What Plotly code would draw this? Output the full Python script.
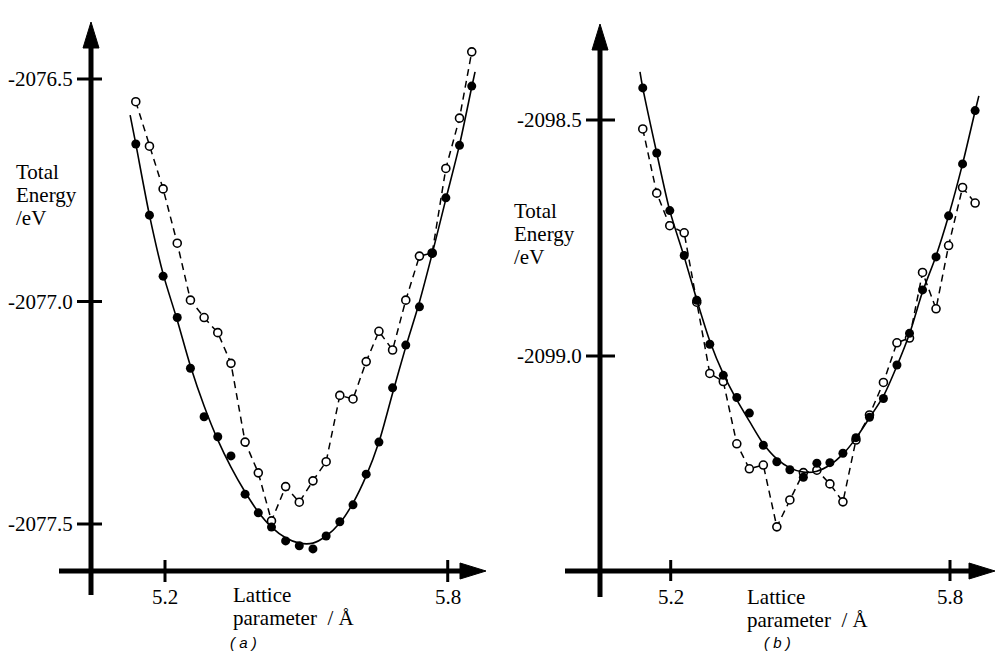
import plotly.graph_objects as go

# ---------------- data ----------------
# panel (a)
x_a = [5.138, 5.167, 5.196, 5.226, 5.254, 5.283, 5.312, 5.340, 5.370, 5.398, 5.426, 5.456, 5.485,
       5.514, 5.542, 5.571, 5.599, 5.627, 5.654, 5.683, 5.711, 5.740, 5.767, 5.796, 5.825, 5.851]
filled_a = [-2076.646, -2076.806, -2076.943, -2077.036, -2077.150, -2077.259, -2077.304, -2077.347,
            -2077.433, -2077.475, -2077.507, -2077.538, -2077.549, -2077.556, -2077.527, -2077.495,
            -2077.457, -2077.388, -2077.316, -2077.194, -2077.098, -2077.012, -2076.892, -2076.767,
            -2076.649, -2076.516]
open_a = [-2076.551, -2076.651, -2076.747, -2076.869, -2076.997, -2077.036, -2077.070, -2077.139,
          -2077.316, -2077.385, -2077.493, -2077.416, -2077.451, -2077.403, -2077.360, -2077.211,
          -2077.219, -2077.135, -2077.067, -2077.109, -2076.997, -2076.898, -2076.891, -2076.701,
          -2076.588, -2076.439]
fit_a_x = [5.126, 5.138, 5.167, 5.196, 5.226, 5.254, 5.283, 5.312, 5.340, 5.370, 5.398, 5.426, 5.456,
           5.485, 5.514, 5.542, 5.571, 5.599, 5.627, 5.654, 5.683, 5.711, 5.740, 5.767, 5.796, 5.825,
           5.851, 5.858]
fit_a_y = [-2076.581, -2076.646, -2076.806, -2076.938, -2077.042, -2077.145, -2077.235, -2077.311,
           -2077.372, -2077.428, -2077.473, -2077.507, -2077.531, -2077.543, -2077.543, -2077.527,
           -2077.498, -2077.453, -2077.392, -2077.316, -2077.206, -2077.102, -2077.001, -2076.893,
           -2076.770, -2076.648, -2076.518, -2076.484]

# panel (b)
x_b = [5.140, 5.170, 5.198, 5.229, 5.256, 5.284, 5.313, 5.342, 5.369, 5.399, 5.428, 5.456, 5.485,
       5.514, 5.542, 5.570, 5.598, 5.627, 5.657, 5.686, 5.713, 5.741, 5.770, 5.797, 5.827, 5.854]
filled_b = [-2098.432, -2098.570, -2098.692, -2098.787, -2098.882, -2098.975, -2099.041, -2099.088,
            -2099.121, -2099.189, -2099.224, -2099.241, -2099.257, -2099.227, -2099.226, -2099.206,
            -2099.173, -2099.130, -2099.090, -2099.019, -2098.952, -2098.860, -2098.790, -2098.703,
            -2098.593, -2098.480]
open_b = [-2098.519, -2098.655, -2098.724, -2098.739, -2098.886, -2099.037, -2099.054, -2099.186,
          -2099.239, -2099.231, -2099.362, -2099.305, -2099.247, -2099.242, -2099.271, -2099.309,
          -2099.178, -2099.125, -2099.056, -2098.972, -2098.962, -2098.823, -2098.900, -2098.766,
          -2098.643, -2098.676]
fit_b_x = [5.134, 5.140, 5.170, 5.198, 5.229, 5.256, 5.284, 5.313, 5.342, 5.369, 5.399, 5.428, 5.456,
           5.485, 5.514, 5.542, 5.570, 5.598, 5.627, 5.657, 5.686, 5.713, 5.741, 5.770, 5.797, 5.827,
           5.854, 5.862]
fit_b_y = [-2098.398, -2098.432, -2098.570, -2098.692, -2098.790, -2098.881, -2098.968, -2099.038,
           -2099.093, -2099.138, -2099.186, -2099.218, -2099.237, -2099.246, -2099.244, -2099.231,
           -2099.208, -2099.174, -2099.131, -2099.085, -2099.021, -2098.953, -2098.864, -2098.788,
           -2098.703, -2098.593, -2098.481, -2098.449]

x_ticks = [5.2, 5.8]
x_tick_labels = ["5.2", "5.8"]
y_ticks_a = [-2076.5, -2077.0, -2077.5]
y_tick_labels_a = ["-2076.5", "-2077.0", "-2077.5"]
y_ticks_b = [-2098.5, -2099.0]
y_tick_labels_b = ["-2098.5", "-2099.0"]

# ---------------- layout geometry (pixels) ----------------
W, H = 996, 651
SERIF = "Liberation Serif"
FS = 21

panels = {
    "a": dict(xr="x", yr="y", left=0, right=498, xv=5.2, xpx=165.0, kx=471.2,
              yv=-2076.5, ypx=79.0, ky=445.0,
              axx=91, axy=571, vtop=22, vbot=595, hleft=59, hright=486,
              tick_l=14, tick_r=11, xt_up=11, xt_dn=11),
    "b": dict(xr="x2", yr="y2", left=498, right=996, xv=5.2, xpx=670.7, kx=465.5,
              yv=-2098.5, ypx=120.0, ky=472.0,
              axx=600, axy=571, vtop=24, vbot=597, hleft=565, hright=995,
              tick_l=14, tick_r=15, xt_up=11, xt_dn=10),
}


def X(p, px):
    return p["xv"] + (px - p["xpx"]) / p["kx"]


def Y(p, py):
    return p["yv"] - (py - p["ypx"]) / p["ky"]


fig = go.Figure()

series = {
    "a": (x_a, filled_a, open_a, fit_a_x, fit_a_y),
    "b": (x_b, filled_b, open_b, fit_b_x, fit_b_y),
}

shapes = []
annotations = []

for key, p in panels.items():
    xs, fy, oy, fx, fyy = series[key]
    xr, yr = p["xr"], p["yr"]
    # dashed open-circle series
    fig.add_trace(go.Scatter(
        x=xs, y=oy, mode="lines+markers", xaxis=xr, yaxis=yr,
        line=dict(color="black", width=1.5, dash="7px,5px"),
        marker=dict(symbol="circle", size=8, color="white", line=dict(color="black", width=1.6)),
        hoverinfo="skip"))
    # fitted solid curve
    fig.add_trace(go.Scatter(
        x=fx, y=fyy, mode="lines", xaxis=xr, yaxis=yr,
        line=dict(color="black", width=1.6, shape="spline", smoothing=0.8),
        hoverinfo="skip"))
    # filled points
    fig.add_trace(go.Scatter(
        x=xs, y=fy, mode="markers", xaxis=xr, yaxis=yr,
        marker=dict(symbol="circle", size=9, color="black"),
        hoverinfo="skip"))

    # axes (thick lines with arrowheads)
    ax_x = X(p, p["axx"])
    ax_y = Y(p, p["axy"])
    shapes.append(dict(type="line", xref=xr, yref=yr, x0=ax_x, x1=ax_x,
                       y0=Y(p, p["vbot"]), y1=Y(p, p["vtop"] + 20),
                       line=dict(color="black", width=5)))
    shapes.append(dict(type="line", xref=xr, yref=yr, x0=X(p, p["hleft"]), x1=X(p, p["hright"] - 20),
                       y0=ax_y, y1=ax_y, line=dict(color="black", width=5)))
    # vertical arrowhead
    tipx, tipy = p["axx"], p["vtop"]
    path = "M {},{} L {},{} L {},{} Z".format(
        X(p, tipx), Y(p, tipy), X(p, tipx - 8), Y(p, tipy + 26), X(p, tipx + 8), Y(p, tipy + 26))
    shapes.append(dict(type="path", xref=xr, yref=yr, path=path,
                       fillcolor="black", line=dict(color="black", width=1)))
    # horizontal arrowhead
    tipx, tipy = p["hright"], p["axy"]
    path = "M {},{} L {},{} L {},{} Z".format(
        X(p, tipx), Y(p, tipy), X(p, tipx - 26), Y(p, tipy - 8), X(p, tipx - 26), Y(p, tipy + 8))
    shapes.append(dict(type="path", xref=xr, yref=yr, path=path,
                       fillcolor="black", line=dict(color="black", width=1)))

    # x ticks
    for tv, tl in zip(x_ticks, x_tick_labels):
        shapes.append(dict(type="line", xref=xr, yref=yr, x0=tv, x1=tv,
                           y0=Y(p, p["axy"] - p["xt_up"]), y1=Y(p, p["axy"] + p["xt_dn"]),
                           line=dict(color="black", width=3)))
        annotations.append(dict(xref=xr, yref=yr, x=tv, y=Y(p, p["axy"] + 26), text=tl,
                                showarrow=False, xanchor="center", yanchor="middle",
                                font=dict(family=SERIF, size=FS, color="black")))
    # y ticks
    yt = y_ticks_a if key == "a" else y_ticks_b
    ytl = y_tick_labels_a if key == "a" else y_tick_labels_b
    for tv, tl in zip(yt, ytl):
        shapes.append(dict(type="line", xref=xr, yref=yr,
                           x0=X(p, p["axx"] - p["tick_l"]), x1=X(p, p["axx"] + p["tick_r"]),
                           y0=tv, y1=tv, line=dict(color="black", width=3)))
        annotations.append(dict(xref=xr, yref=yr, x=X(p, p["axx"] - 16), y=tv, text=tl,
                                showarrow=False, xanchor="right", yanchor="middle",
                                font=dict(family=SERIF, size=FS, color="black")))


def paper_text(px, py, text, xanchor="left", size=FS, family=SERIF):
    annotations.append(dict(xref="paper", yref="paper", x=px / W, y=1 - py / H, text=text,
                            showarrow=False, xanchor=xanchor, yanchor="middle",
                            font=dict(family=family, size=size, color="black")))


# y-axis titles
for (lx, ys) in [(14, (172, 195, 218)), (512, (211, 234, 257))]:
    paper_text(lx, ys[0], "Total")
    paper_text(lx, ys[1], "Energy")
    paper_text(lx, ys[2], "/eV")

# x-axis titles
for (lx, y1, y2) in [(231, 595, 618), (745, 597, 620)]:
    paper_text(lx, y1, "Lattice")
    paper_text(lx, y2, "parameter  / Å")

# panel labels
paper_text(243, 642, "<i>( a )</i>", xanchor="center", size=15, family="Liberation Sans")
paper_text(777, 642, "<i>( b )</i>", xanchor="center", size=15, family="Liberation Sans")

pa, pb = panels["a"], panels["b"]
fig.update_layout(
    width=W, height=H,
    margin=dict(l=0, r=0, t=0, b=0),
    paper_bgcolor="white", plot_bgcolor="white",
    showlegend=False,
    xaxis=dict(domain=[0, pa["right"] / W], range=[X(pa, pa["left"]), X(pa, pa["right"])],
               visible=False, anchor="y"),
    yaxis=dict(domain=[0, 1], range=[Y(pa, H), Y(pa, 0)], visible=False, anchor="x"),
    xaxis2=dict(domain=[pb["left"] / W, 1], range=[X(pb, pb["left"]), X(pb, pb["right"])],
                visible=False, anchor="y2"),
    yaxis2=dict(domain=[0, 1], range=[Y(pb, H), Y(pb, 0)], visible=False, anchor="x2"),
    shapes=shapes,
    annotations=annotations,
)

fig.write_html("out.html")
